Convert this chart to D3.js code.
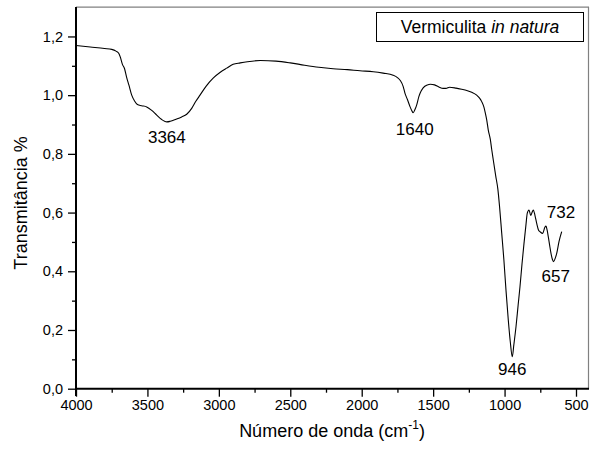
<!DOCTYPE html>
<html><head><meta charset="utf-8">
<script src="https://cdn.jsdelivr.net/npm/d3@7"></script>
<style>body{margin:0;background:#fff}svg{display:block}text{font-family:"Liberation Sans",Arial,sans-serif;fill:#000}</style>
</head><body><svg id="c" width="590" height="452"></svg>
<script>
const wavenumbers = [4000,3900,3800,3750,3720,3700,3690,3675,3660,3645,3630,3610,3590,3570,3540,3505,3470,3435,3400,3380,3364,3340,3300,3260,3225,3190,3160,3132,3090,3040,2990,2945,2900,2850,2800,2710,2600,2500,2400,2300,2200,2100,2012,1919,1850,1780,1750,1730,1710,1697,1680,1662,1650,1640,1628,1615,1600,1590,1570,1540,1520,1490,1460,1430,1410,1385,1340,1300,1265,1230,1195,1175,1160,1145,1135,1125,1114,1100,1090,1079,1062,1047,1035,1020,1005,990,974,960,946,935,920,905,892,878,864,850,841,829,817,808,799,787,775,762,752,733,718,710,702,694,685,675,665,657,645,635,619,600];
const transmittance = [1.169,1.164,1.159,1.156,1.150,1.142,1.130,1.105,1.090,1.060,1.035,1.000,0.980,0.968,0.964,0.960,0.948,0.932,0.917,0.911,0.909,0.911,0.918,0.926,0.935,0.955,0.980,1.000,1.030,1.058,1.078,1.092,1.105,1.110,1.114,1.118,1.116,1.110,1.102,1.095,1.090,1.087,1.083,1.080,1.075,1.068,1.060,1.050,1.030,1.006,0.985,0.961,0.948,0.940,0.950,0.967,0.995,1.008,1.025,1.035,1.037,1.035,1.028,1.023,1.023,1.027,1.024,1.020,1.016,1.010,1.000,0.990,0.978,0.960,0.940,0.916,0.881,0.850,0.815,0.779,0.725,0.680,0.620,0.530,0.440,0.335,0.234,0.160,0.109,0.150,0.211,0.285,0.348,0.425,0.495,0.560,0.598,0.609,0.590,0.600,0.609,0.590,0.563,0.540,0.535,0.529,0.550,0.554,0.540,0.518,0.490,0.461,0.440,0.433,0.445,0.461,0.501,0.535];
const xTicks = [4000,3500,3000,2500,2000,1500,1000,500];
const xMinorTicks = [3750,3250,2750,2250,1750,1250,750];
const yTicks = [0,0.2,0.4,0.6,0.8,1.0,1.2];
const yMinorTicks = [0.1,0.3,0.5,0.7,0.9,1.1];
const peakLabels = ["3364","1640","946","732","657"];
const peakLabelX = [3364,1629,946,605,642];
const peakLabelY = [0.837,0.864,0.047,0.582,0.364];
const xTitle = "Número de onda (cm";
const yTitle = "Transmitância %";
const legendText = ["Vermiculita ","in natura"];

const svg = d3.select("#c");
const x = d3.scaleLinear().domain([4000,409]).range([76,589]);
const y = d3.scaleLinear().domain([0,1.3]).range([388.7,7.1]);
const fmt = v => d3.format(".1f")(v).replace(".",",");

// frame top/right
svg.append("line").attr("x1",76).attr("x2",589).attr("y1",7.1).attr("y2",7.1).attr("stroke","#808080").attr("stroke-width",1.2);
svg.append("line").attr("x1",588.5).attr("x2",588.5).attr("y1",7.1).attr("y2",388.7).attr("stroke","#808080").attr("stroke-width",1.2);

// x axis
const gx = svg.append("g").attr("transform","translate(0,388.7)");
gx.call(d3.axisBottom(x).tickValues(xTicks).tickSize(8).tickPadding(3).tickFormat(d3.format("d")));
gx.append("g").call(d3.axisBottom(x).tickValues(xMinorTicks).tickSize(4).tickFormat(""));
gx.selectAll(".domain").remove();
gx.append("line").attr("x1",75).attr("x2",589).attr("stroke","#000").attr("stroke-width",2);
gx.selectAll("line").attr("stroke","#000");
gx.selectAll(".tick line").attr("stroke-width",1.3);
gx.selectAll(".tick text").attr("font-size","14.5px").attr("font-family","Liberation Sans, Arial, sans-serif");

// y axis
const gy = svg.append("g").attr("transform","translate(76,0)");
gy.call(d3.axisLeft(y).tickValues(yTicks).tickSize(8).tickPadding(5).tickFormat(fmt));
gy.append("g").call(d3.axisLeft(y).tickValues(yMinorTicks).tickSize(4).tickFormat(""));
gy.selectAll(".domain").remove();
gy.append("line").attr("y1",7.1).attr("y2",396).attr("stroke","#000").attr("stroke-width",2);
gy.selectAll(".tick line").attr("stroke","#000").attr("stroke-width",1.3);
gy.selectAll(".tick text").attr("font-size","14.5px").attr("font-family","Liberation Sans, Arial, sans-serif");

// curve
const data = wavenumbers.map((w,i)=>[w,transmittance[i]]);
svg.append("path").datum(data)
  .attr("fill","none").attr("stroke","#000").attr("stroke-width",1.1)
  .attr("d", d3.line().x(d=>x(d[0])).y(d=>y(d[1])).curve(d3.curveMonotoneX));

// peak labels
svg.selectAll(".pk").data(peakLabels).enter().append("text")
  .attr("x",(d,i)=>x(peakLabelX[i])).attr("y",(d,i)=>y(peakLabelY[i]))
  .attr("text-anchor","middle").attr("font-size","17px").text(d=>d);

// legend
svg.append("rect").attr("x",376.5).attr("y",12.5).attr("width",207).attr("height",29)
  .attr("fill","#fff").attr("stroke","#000").attr("stroke-width",1);
const lt = svg.append("text").attr("x",480).attr("y",32.5).attr("text-anchor","middle").attr("font-size","17.5px");
lt.append("tspan").text(legendText[0]);
lt.append("tspan").attr("font-style","italic").text(legendText[1]);

// axis titles
const xt = svg.append("text").attr("x",332).attr("y",437).attr("text-anchor","middle").attr("font-size","18px");
xt.append("tspan").text(xTitle);
xt.append("tspan").attr("font-size","12px").attr("dy",-8).text("-1");
xt.append("tspan").attr("dy",8).text(")");

svg.append("text").attr("transform","translate(27,203) rotate(-90)").attr("text-anchor","middle").attr("font-size","18px").text(yTitle);
</script></body></html>
